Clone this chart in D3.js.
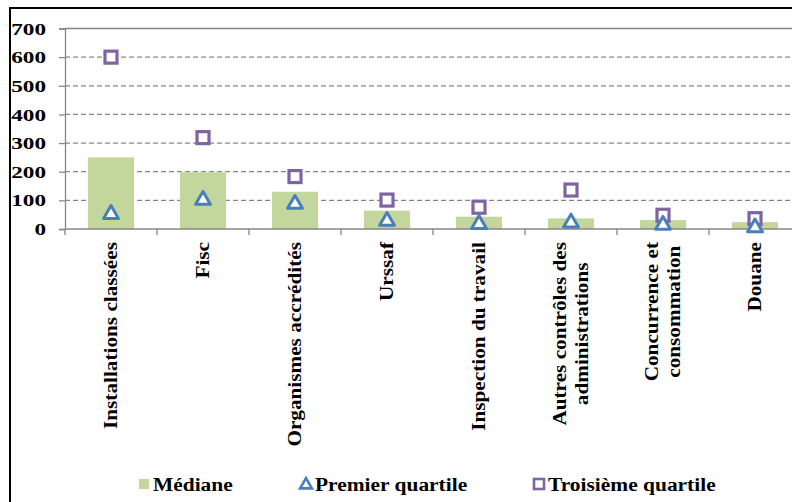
<!DOCTYPE html>
<html>
<head>
<meta charset="utf-8">
<script src="https://cdn.jsdelivr.net/npm/d3@7"></script>
<style>
  body { margin: 0; background: #fff; }
  svg text { font-family: "Liberation Serif", "Times New Roman", serif; font-weight: bold; fill: #000; }
</style>
</head>
<body>
<svg id="chart" width="792" height="502"></svg>
<script>
var categories = [
  ['Installations classées'],
  ['Fisc'],
  ['Organismes accrédités'],
  ['Urssaf'],
  ['Inspection du travail'],
  ['Autres contrôles des', 'administrations'],
  ['Concurrence et', 'consommation'],
  ['Douane']
];
var mediane = [250, 198, 130, 64, 43, 37, 31, 24];
var premierQuartile = [52, 101, 87, 28, 17, 22, 14, 5];
var troisiemeQuartile = [600, 319, 183, 101, 76, 136, 48, 36];
var yTicks = [0, 100, 200, 300, 400, 500, 600, 700];
var legendLabels = ['Médiane', 'Premier quartile', 'Troisième quartile'];

var plotLeft = 65, plotRight = 801, plotTop = 28.5, plotBottom = 229;
var grey = '#868686';

var svg = d3.select('#chart');

// outer frame of the chart
svg.append('rect').attr('x', 10).attr('y', 8).attr('width', 800).attr('height', 520)
    .attr('fill', 'none').attr('stroke', '#000').attr('stroke-width', 2);

var keys = categories.map(function(c) { return c.join(' '); });
var x = d3.scaleBand().domain(keys).range([plotLeft, plotRight]).paddingInner(0.5).paddingOuter(0.25);
var y = d3.scaleLinear().domain([0, 700]).range([plotBottom, plotTop]);
var step = x.step();

// gridlines
svg.append('g').selectAll('line').data(yTicks.filter(function(d) { return d > 0 && d < 700; }))
  .enter().append('line')
    .attr('x1', plotLeft).attr('x2', plotRight)
    .attr('y1', function(d) { return y(d); }).attr('y2', function(d) { return y(d); })
    .attr('stroke', grey).attr('stroke-width', 1.3).attr('stroke-dasharray', '5,3');

// plot area top border
svg.append('line').attr('x1', plotLeft).attr('x2', plotRight).attr('y1', y(700)).attr('y2', y(700))
    .attr('stroke', grey).attr('stroke-width', 1.3);

// bars
svg.append('g').selectAll('rect').data(mediane).enter().append('rect')
    .attr('x', function(d, i) { return x(keys[i]); })
    .attr('width', x.bandwidth())
    .attr('y', function(d) { return y(d); })
    .attr('height', function(d) { return y(0) - y(d); })
    .attr('fill', '#c3d69b');

// y axis
var yAxis = svg.append('g').attr('transform', 'translate(' + plotLeft + ',0)')
    .call(d3.axisLeft(y).tickValues(yTicks).tickSize(6));
yAxis.select('.domain').attr('stroke', grey).attr('stroke-width', 1.3);
yAxis.selectAll('.tick line').attr('stroke', grey).attr('stroke-width', 1.3);
yAxis.selectAll('.tick text').style('font-size', '16px')
    .attr('x', 0).attr('dy', '0.35em')
    .attr('transform', 'translate(-19,0) scale(1.45,1)');

// x axis line and boundary ticks
svg.append('line').attr('x1', plotLeft).attr('x2', plotRight).attr('y1', plotBottom).attr('y2', plotBottom)
    .attr('stroke', grey).attr('stroke-width', 1.6);
svg.append('g').selectAll('line').data(d3.range(keys.length + 1)).enter().append('line')
    .attr('x1', function(i) { return plotLeft + i * step; })
    .attr('x2', function(i) { return plotLeft + i * step; })
    .attr('y1', plotBottom).attr('y2', plotBottom + 6)
    .attr('stroke', grey).attr('stroke-width', 1.3);

// category labels, rotated, multi-line centred on each other
var labelTop = 242, lineGap = 22, stretch = 1.18;
categories.forEach(function(lines, i) {
  var cx = x(keys[i]) + x.bandwidth() / 2;
  var g = svg.append('g');
  var texts = lines.map(function(t, j) {
    var off = (j - (lines.length - 1) / 2) * lineGap;
    return g.append('text').text(t).style('font-size', '18px')
        .attr('text-anchor', 'middle')
        .attr('data-x', cx + off);
  });
  var maxLen = d3.max(texts, function(t) { return t.node().getComputedTextLength(); }) * stretch;
  var cy = labelTop + maxLen / 2;
  texts.forEach(function(t) {
    var tx = +t.attr('data-x');
    t.attr('transform', 'translate(' + tx + ',' + cy + ') rotate(-90) scale(' + stretch + ',1)')
        .attr('dy', '0.35em');
  });
});

// third quartile squares
svg.append('g').selectAll('rect').data(troisiemeQuartile).enter().append('rect')
    .attr('x', function(d, i) { return x(keys[i]) + x.bandwidth() / 2 - 6; })
    .attr('y', function(d) { return y(d) - 6; })
    .attr('width', 12).attr('height', 12)
    .attr('fill', '#fff').attr('stroke', '#8064a2').attr('stroke-width', 3.2);

// first quartile triangles
var tri = d3.symbol().type(d3.symbolTriangle).size(95);
svg.append('g').selectAll('path').data(premierQuartile).enter().append('path')
    .attr('d', tri)
    .attr('transform', function(d, i) {
      return 'translate(' + (x(keys[i]) + x.bandwidth() / 2) + ',' + y(d) + ')';
    })
    .attr('fill', '#fff').attr('stroke', '#4a7ebb').attr('stroke-width', 3).attr('stroke-linejoin', 'round');

// legend
var legendY = 484;
var leg = svg.append('g');
leg.append('rect').attr('x', 139).attr('y', legendY - 5).attr('width', 10).attr('height', 10).attr('fill', '#c3d69b');
leg.append('path').attr('d', d3.symbol().type(d3.symbolTriangle).size(60))
    .attr('transform', 'translate(306,' + (legendY + 1) + ')')
    .attr('fill', '#fff').attr('stroke', '#4a7ebb').attr('stroke-width', 2.6);
leg.append('rect').attr('x', 534).attr('y', legendY - 5).attr('width', 10).attr('height', 10)
    .attr('fill', '#fff').attr('stroke', '#8064a2').attr('stroke-width', 2.6);
var legX = [153, 315, 548];
leg.selectAll('text').data(legendLabels).enter().append('text')
    .attr('transform', function(d, i) { return 'translate(' + legX[i] + ',' + legendY + ') scale(1.1,1)'; })
    .attr('dy', '0.35em')
    .style('font-size', '19.5px')
    .text(function(d) { return d; });
</script>
</body>
</html>
